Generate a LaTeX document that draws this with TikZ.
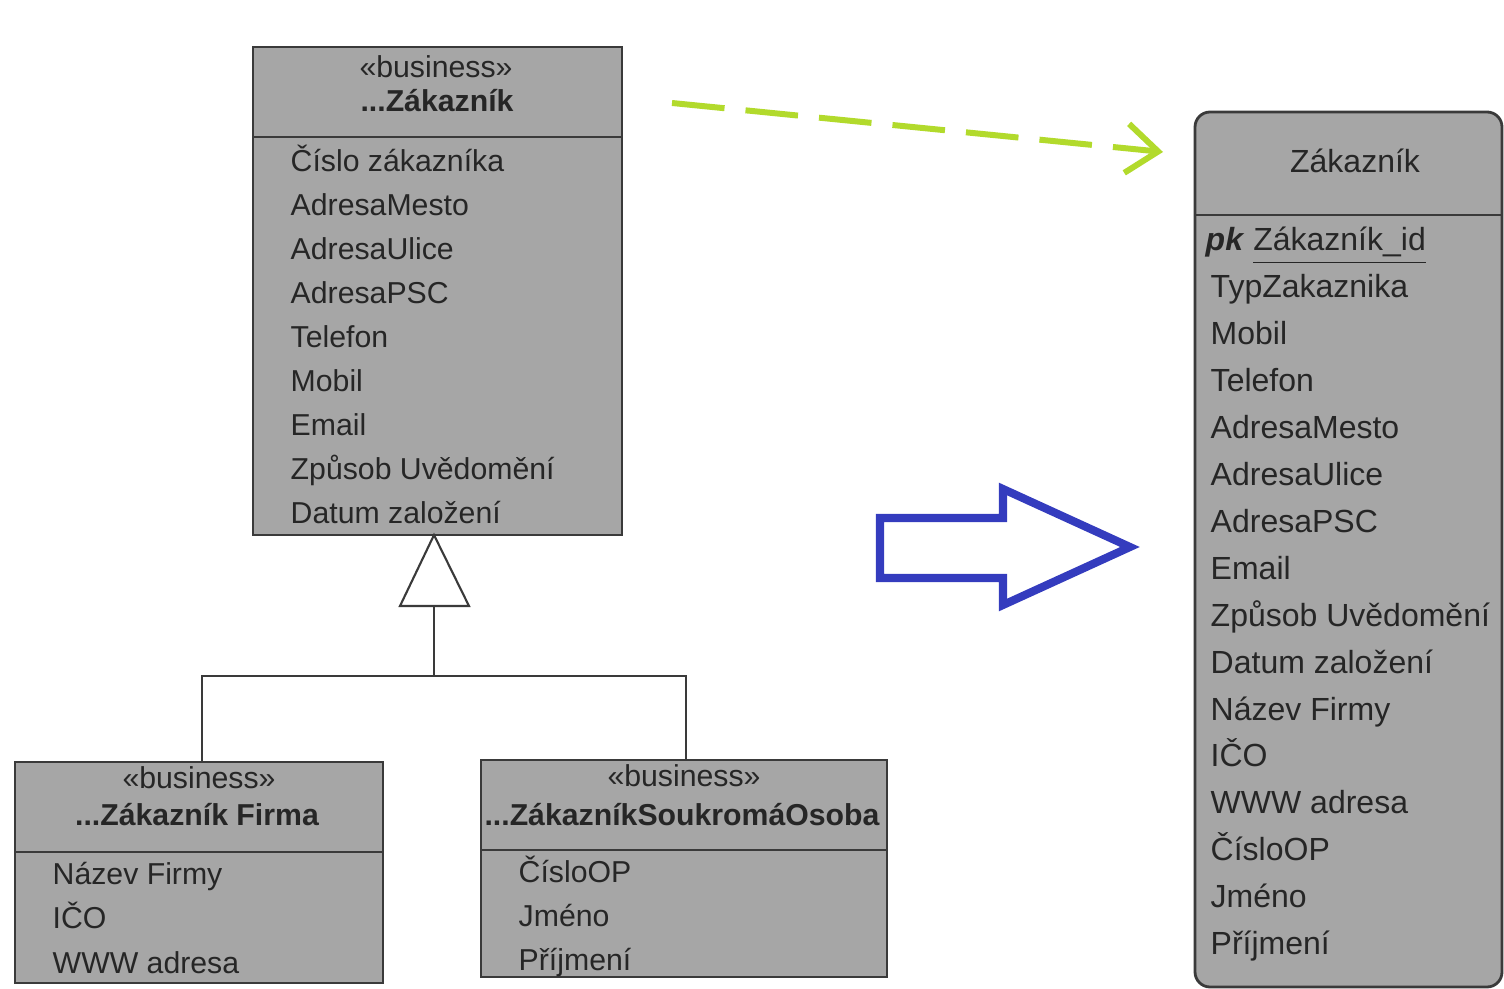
\documentclass[tikz,border=0pt]{standalone}
\usepackage{fontspec}
\setmainfont{Liberation Sans}
\usepackage{tikz}
\usetikzlibrary{arrows.meta}

\definecolor{boxgray}{RGB}{166,166,166}
\definecolor{boxline}{RGB}{58,58,58}
\definecolor{txtgray}{RGB}{38,38,38}
\definecolor{limegreen}{RGB}{178,218,44}
\definecolor{arrowblue}{RGB}{52,60,190}

\tikzset{
  classbox/.style={draw=boxline, fill=boxgray, line width=0.8pt},
  sepline/.style={draw=boxline, line width=0.8pt},
  attr/.style={anchor=base west, inner sep=0pt, text=txtgray, font=\fontsize{8.6}{10}\selectfont},
  title/.style={anchor=base, inner sep=0pt, text=txtgray, font=\fontsize{8.6}{10}\selectfont},
  col/.style={anchor=base west, inner sep=0pt, text=txtgray, font=\fontsize{9.1}{11}\selectfont},
}

\begin{document}
\begin{tikzpicture}[x=0.01cm, y=-0.01cm]
\useasboundingbox (0,0) rectangle (1504,989);

% Points
\coordinate (apex) at (434,535);   % tip of the triangle
\coordinate (tri) at (434,606);    % base of the triangle
\coordinate (bus) at (434,676);    % where the lines meet
\coordinate (fj) at (202,676);     % over Firma
\coordinate (sj) at (686,676);     % over SoukromaOsoba
\coordinate (ftop) at (202,762);   % top of Firma
\coordinate (stop) at (686,760);   % top of SoukromaOsoba
\coordinate (gs) at (672,103);     % green arrow start
\coordinate (ge) at (1163,152);    % green arrow end

% Boxes
\draw[classbox] (253,47) rectangle (622,535);     % business Zakaznik
\draw[sepline] (253,137) -- (622,137);
\draw[classbox] (15,762) rectangle (383,983);     % business Zakaznik Firma
\draw[sepline] (15,852) -- (383,852);
\draw[classbox] (481,760) rectangle (887,977);    % business SoukromaOsoba
\draw[sepline] (481,850) -- (887,850);
\draw[classbox, rounded corners=0.15cm] (1195,112) rectangle (1502,987); % table
\draw[sepline] (1195,215) -- (1502,215);

% Generalization
\draw[boxline, line width=0.6pt, fill=white] (apex) -- (400,606) -- (469,606) -- cycle;
\draw[boxline, line width=0.6pt] (tri) -- (bus);
\draw[boxline, line width=0.6pt] (ftop) -- (fj) -- (sj) -- (stop);

% Titles
\node[title] (zs) at (436,78) {«business»};
\node[title, font=\fontsize{8.6}{10}\selectfont\bfseries] (zn) at (437,112) {...Zákazník};
\node[title] (fs) at (199,788) {«business»};
\node[title, font=\fontsize{8.6}{10}\selectfont\bfseries] (fn) at (197,825) {...Zákazník Firma};
\node[title] (ss) at (684,786) {«business»};
\node[title, font=\fontsize{8.6}{10}\selectfont\bfseries] (sn) at (682,825) {...ZákazníkSoukromáOsoba};
\node[title, font=\fontsize{9.1}{11}\selectfont] (tn) at (1355,173) {Zákazník};

% Attributes
\foreach \t [count=\i] in {Číslo zákazníka, AdresaMesto, AdresaUlice, AdresaPSC,
    Telefon, Mobil, Email, Způsob Uvědomění, Datum založení}
  \node[attr] (zk\i) at (290,{172+44*(\i-1)}) {\t};
\foreach \t [count=\i] in {Název Firmy, IČO, WWW adresa}
  \node[attr] (fa\i) at (52,{884+44.5*(\i-1)}) {\t};
\foreach \t [count=\i] in {ČísloOP, Jméno, Příjmení}
  \node[attr] (sa\i) at (518,{882+44*(\i-1)}) {\t};

% Table columns
\node[col] (pk) at (1205,251) {\textbf{\textit{pk}} \underline{Zákazník\_id}};
\foreach \t [count=\i] in {TypZakaznika, Mobil, Telefon, AdresaMesto, AdresaUlice,
    AdresaPSC, Email, Způsob Uvědomění, Datum založení, Název Firmy, IČO,
    WWW adresa, ČísloOP, Jméno, Příjmení}
  \node[col] (tc\i) at (1210,{251+46.9*\i}) {\t};

% Arrows
\draw[limegreen, line width=1.7pt, dash pattern=on 15pt off 6pt,
      -{Straight Barb[length=9pt,width=14pt]}] (gs) -- (ge);
\draw[arrowblue, line width=2.3pt, line join=miter]
  (880,518) -- (1003,518) -- (1003,489) -- (1130,547) -- (1003,605)
  -- (1003,578) -- (880,578) -- cycle;

\end{tikzpicture}
\end{document}
